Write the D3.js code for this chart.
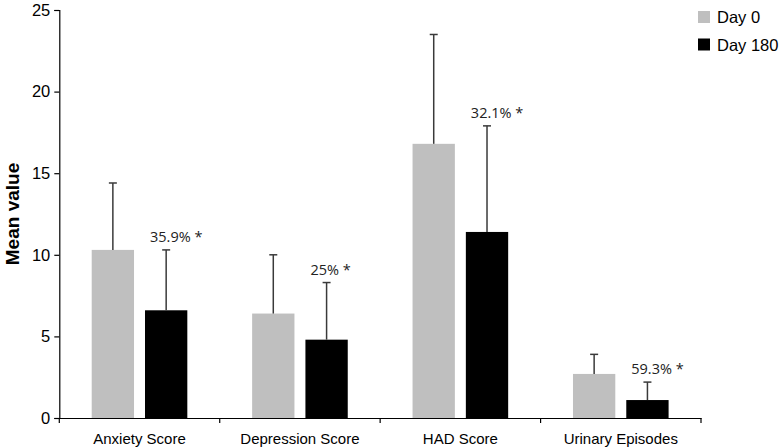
<!DOCTYPE html>
<html><head><meta charset="utf-8">
<script src="https://cdn.jsdelivr.net/npm/d3@7"></script>
<style>body{margin:0;background:#fff}svg{display:block}</style>
</head><body><svg id="c" width="780" height="448"></svg>
<script>
const categories = ["Anxiety Score", "Depression Score", "HAD Score", "Urinary Episodes"];
const seriesNames = ["Day 0", "Day 180"];
const day0 = [10.3, 6.4, 16.8, 2.7];
const day0Err = [4.1, 3.6, 6.7, 1.2];
const day180 = [6.6, 4.8, 11.4, 1.1];
const day180Err = [3.7, 3.5, 6.5, 1.1];
const changeLabels = ["35.9% *", "25% *", "32.1% *", "59.3% *"];
const yTicks = [0, 5, 10, 15, 20, 25];
const colors = ["#bfbfbf", "#000000"];

const svg = d3.select("#c");
const m = {l: 59.3, r: 701, t: 10, b: 418};
const x = d3.scaleBand().domain(categories).range([m.l, m.r]).padding(0);
const xs = d3.scaleBand().domain(seriesNames).range([0, x.bandwidth()]).paddingInner(0.206).paddingOuter(0.608);
const y = d3.scaleLinear().domain([0, 25]).range([m.b, m.t]);

const data = [];
categories.forEach((c, i) => {
  data.push({c, s: seriesNames[0], v: day0[i], e: day0Err[i]});
  data.push({c, s: seriesNames[1], v: day180[i], e: day180Err[i]});
});

// bars
svg.append("g").selectAll("rect").data(data).join("rect")
  .attr("x", d => x(d.c) + xs(d.s))
  .attr("y", d => y(d.v))
  .attr("width", xs.bandwidth())
  .attr("height", d => y(0) - y(d.v))
  .attr("fill", (d) => colors[seriesNames.indexOf(d.s)]);

// error bars (upper only)
const eg = svg.append("g").attr("stroke", "#3a3a3a").attr("stroke-width", 1.5);
data.forEach(d => {
  const cx = x(d.c) + xs(d.s) + xs.bandwidth() / 2;
  eg.append("line").attr("x1", cx).attr("x2", cx).attr("y1", y(d.v)).attr("y2", y(d.v + d.e));
  eg.append("line").attr("x1", cx - 4).attr("x2", cx + 4).attr("y1", y(d.v + d.e)).attr("y2", y(d.v + d.e));
});

// change labels
svg.append("g").selectAll("text").data(categories).join("text")
  .attr("x", (c) => x(c) + xs(seriesNames[1]) + 5)
  .attr("y", (c, i) => y(day180[i] + day180Err[i]) - 8)
  .attr("font-family", "'Open Sans', sans-serif")
  .attr("font-size", 14.5)
  .attr("fill", "#222")
  .text((c, i) => changeLabels[i]);

// y axis
const ya = svg.append("g").attr("transform", `translate(${m.l},0)`)
  .call(d3.axisLeft(y).tickValues(yTicks).tickSize(5).tickPadding(4));
ya.select(".domain").attr("stroke", "#000").attr("stroke-width", 1.2);
ya.selectAll(".tick line").attr("stroke", "#000").attr("stroke-width", 1.2);
ya.selectAll("text").attr("font-family", "'Liberation Sans', Arial, sans-serif").attr("font-size", 16.5).attr("fill", "#000");

// x axis
const xa = svg.append("g").attr("transform", `translate(0,${m.b})`)
  .call(d3.axisBottom(x).tickSize(0).tickPadding(15));
xa.select(".domain").attr("stroke", "#000").attr("stroke-width", 1.2);
xa.selectAll("text").attr("font-family", "'Liberation Sans', Arial, sans-serif").attr("font-size", 15).attr("fill", "#000");
const bounds = categories.map(c => x(c)).concat([x(categories[categories.length - 1]) + x.bandwidth()]);
xa.selectAll("line.bt").data(bounds).join("line").attr("class", "bt")
  .attr("x1", d => d).attr("x2", d => d).attr("y1", 0).attr("y2", 5)
  .attr("stroke", "#000").attr("stroke-width", 1.2);

// y title
svg.append("text")
  .attr("transform", `translate(19,${(m.t + m.b) / 2}) rotate(-90)`)
  .attr("text-anchor", "middle")
  .attr("font-family", "'Liberation Sans', Arial, sans-serif")
  .attr("font-weight", "bold").attr("font-size", 19).attr("fill", "#000")
  .text("Mean value");

// legend
const lg = svg.append("g");
seriesNames.forEach((s, i) => {
  lg.append("rect").attr("x", 698).attr("y", 11 + i * 27.5).attr("width", 12).attr("height", 12).attr("fill", colors[i]);
  lg.append("text").attr("x", 717).attr("y", 23 + i * 27.5)
    .attr("font-family", "'Liberation Sans', Arial, sans-serif").attr("font-size", 16.5).attr("fill", "#000").text(s);
});
</script></body></html>
